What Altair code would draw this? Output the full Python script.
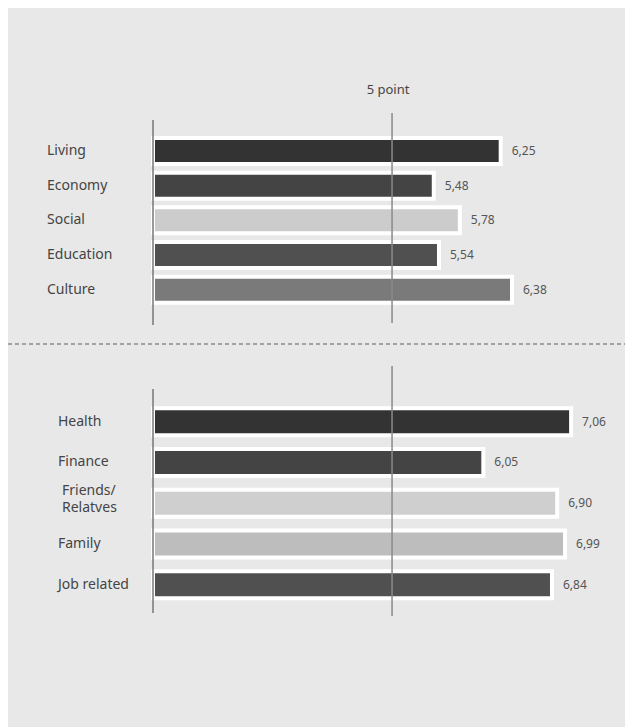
import altair as alt
import pandas as pd

# ---- data ----
top_categories = ["Living", "Economy", "Social", "Education", "Culture"]
top_values = [6.25, 5.48, 5.78, 5.54, 6.38]
top_labels = ["6,25", "5,48", "5,78", "5,54", "6,38"]

bottom_categories = ["Health", "Finance", "Friends/\nRelatves", "Family", "Job related"]
bottom_values = [7.06, 6.05, 6.90, 6.99, 6.84]
bottom_labels = ["7,06", "6,05", "6,90", "6,99", "6,84"]

reference_value = 5
reference_text = "5 point"

# ---- styles ----
top_colors = ["#333333", "#444444", "#cccccc", "#505050", "#7a7a7a"]
bottom_colors = ["#333333", "#444444", "#cfcfcf", "#bdbdbd", "#505050"]
FONT = "Noto Sans"
XMIN, XMAX = 2.25, 7.68
W, H = 617, 719

df_top = pd.DataFrame({"category": top_categories, "value": top_values, "label": top_labels})
df_bot = pd.DataFrame({"category": bottom_categories, "value": bottom_values, "label": bottom_labels})

xscale = alt.Scale(domain=[XMIN, XMAX], range=[145, W], zero=False, nice=False)


def group(df, cats, colors, yrange, pin, pout, label_x):
    base = alt.Chart(df)
    y = alt.Y("category:N", sort=cats,
              scale=alt.Scale(domain=cats, range=yrange, paddingInner=pin, paddingOuter=pout),
              axis=None)
    bars = base.mark_bar(stroke="white", strokeWidth=4).encode(
        x=alt.X("value:Q", scale=xscale, axis=None),
        x2=alt.datum(XMIN),
        y=y,
        color=alt.Color("category:N", scale=alt.Scale(domain=cats, range=colors), legend=None),
    )
    vals = base.mark_text(align="left", baseline="middle", dx=11, font=FONT,
                          fontSize=12, color="#555555").encode(
        x=alt.X("value:Q", scale=xscale, axis=None),
        y=y,
        text="label:N",
    )
    single = base.transform_filter("indexof(datum.category, '\\n') < 0").mark_text(
        align="left", baseline="middle", font=FONT, fontSize=14, color="#444444").encode(
        x=alt.value(label_x),
        y=y,
        text="category:N",
    )
    multi = base.transform_filter("indexof(datum.category, '\\n') >= 0").mark_text(
        align="left", baseline="middle", font=FONT, fontSize=14, color="#444444",
        lineBreak="\n", lineHeight=17, dy=-12, dx=4).encode(
        x=alt.value(label_x),
        y=y,
        text="category:N",
    )
    return alt.layer(bars, vals, single, multi)


top = group(df_top, top_categories, top_colors, [125.6, 299.1], 0.25, 0.125, 39)
bot = group(df_bot, bottom_categories, bottom_colors, [393.3, 597.1], 0.34, 0.17, 50)

one = alt.Data(values=[{}])


def vline(xv, y1, y2, color):
    return alt.Chart(one).mark_rule(color=color, strokeWidth=1.5).encode(
        x=alt.datum(xv, type="quantitative"),
        y=alt.value(y1), y2=alt.value(y2))


rules = [
    vline(XMIN, 112, 317, "#777777"),
    vline(reference_value, 105, 315, "#8a8a8a"),
    vline(XMIN, 381, 605, "#777777"),
    vline(reference_value, 358, 608, "#8a8a8a"),
]

dash = alt.Chart(one).mark_rule(color="#8a8a8a", strokeWidth=1.5, strokeDash=[4, 3]).encode(
    x=alt.value(0), x2=alt.value(W), y=alt.value(336))

ref_label = alt.Chart(one).mark_text(font=FONT, fontSize=13, color="#444444",
                                     align="center", baseline="middle", dx=-4).encode(
    x=alt.datum(reference_value, type="quantitative"),
    y=alt.value(82),
    text=alt.value(reference_text),
)

chart = alt.layer(top, bot, *rules, dash, ref_label).resolve_scale(
    y="independent", color="independent"
).properties(
    width=W, height=H, autosize="none",
    padding={"left": 8, "top": 8, "right": 0, "bottom": 0},
    background="white",
).configure_view(fill="#e8e8e8", strokeWidth=0)

chart.save("out.html", embed_options={"renderer": "svg", "actions": False})
